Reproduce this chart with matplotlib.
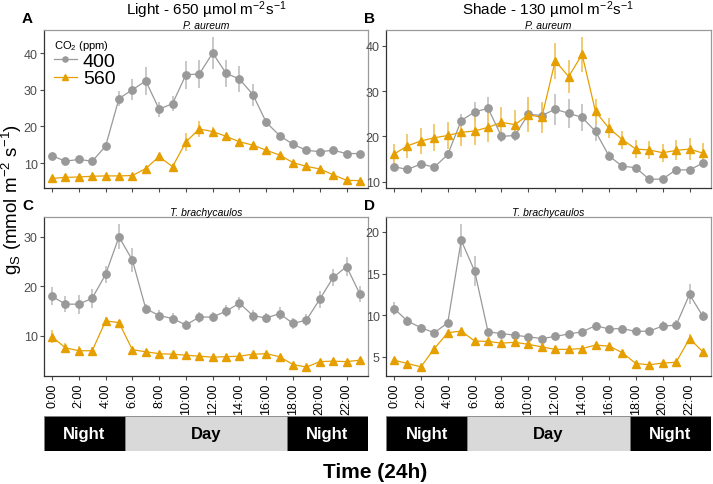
import matplotlib
matplotlib.use("Agg")
import matplotlib.pyplot as plt
import numpy as np

plt.rcParams['font.family'] = ['Liberation Sans', 'DejaVu Sans']
plt.rcParams['mathtext.default'] = 'regular'

hours = list(range(24))
tick_labels = ["%d:00" % h for h in range(0, 24, 2)]

# A - Light, P. aureum
a_400 = [12.0, 10.5, 11.0, 10.5, 14.6, 27.6, 30.0, 32.4, 24.7, 26.2, 34.1, 34.3,
         40.0, 34.5, 32.9, 28.7, 21.1, 17.5, 15.1, 13.5, 13.1, 13.5, 12.6, 12.6]
a_400_se = [0.4, 0.3, 0.3, 0.3, 0.8, 2.0, 2.8, 3.8, 2.0, 2.0, 3.8, 3.8,
            4.3, 3.7, 3.5, 3.0, 1.3, 0.8, 0.4, 0.4, 0.4, 0.4, 0.4, 0.4]
a_560 = [5.8, 6.1, 6.2, 6.4, 6.5, 6.5, 6.6, 8.5, 11.8, 9.0, 15.8, 19.3,
         18.6, 17.3, 15.8, 14.9, 13.5, 12.2, 10.1, 9.1, 8.4, 6.8, 5.3, 5.2]
a_560_se = [0.4, 0.4, 0.4, 0.4, 0.4, 0.4, 0.4, 0.6, 0.8, 0.7, 2.5, 2.2,
            1.2, 1.0, 0.8, 0.6, 0.5, 0.5, 0.5, 0.4, 0.4, 0.4, 0.3, 0.3]

# B - Shade, P. aureum
b_400 = [13.3, 12.7, 13.9, 13.2, 16.0, 23.5, 25.4, 26.2, 20.0, 20.2, 24.9, 24.6,
         26.0, 25.1, 24.2, 21.1, 15.7, 13.4, 13.1, 10.5, 10.6, 12.6, 12.6, 14.1]
b_400_se = [0.3, 0.3, 0.3, 0.3, 1.0, 1.5, 2.2, 2.5, 1.2, 1.2, 2.6, 2.6,
            3.4, 3.2, 3.0, 2.2, 1.0, 0.5, 0.4, 0.3, 0.3, 0.4, 0.4, 0.6]
b_560 = [16.1, 17.9, 19.0, 19.7, 20.2, 20.9, 21.2, 22.0, 23.1, 22.6, 24.8, 24.2,
         36.7, 33.2, 38.1, 25.5, 21.8, 19.3, 17.2, 17.0, 16.4, 16.9, 17.2, 16.3]
b_560_se = [2.3, 2.6, 2.9, 3.0, 3.0, 3.0, 3.0, 3.2, 3.3, 3.3, 3.8, 3.4,
            4.0, 3.6, 3.8, 2.7, 2.2, 2.0, 2.0, 2.0, 2.0, 2.2, 2.4, 2.2]

# C - Light, T. brachycaulos
c_400 = [18.0, 16.4, 16.4, 17.6, 22.4, 30.0, 25.3, 15.5, 14.1, 13.5, 12.2, 13.8,
         13.8, 15.0, 16.6, 14.1, 13.6, 14.5, 12.5, 13.2, 17.4, 21.8, 24.0, 18.4]
c_400_se = [1.8, 1.6, 1.9, 1.9, 1.8, 2.5, 2.4, 1.0, 1.1, 1.1, 1.0, 1.1,
            1.0, 1.2, 1.3, 1.2, 1.1, 1.3, 1.2, 1.3, 1.7, 1.8, 2.0, 1.6]
c_560 = [9.8, 7.6, 7.0, 7.0, 13.0, 12.7, 7.2, 6.8, 6.4, 6.3, 6.1, 5.9,
         5.7, 5.8, 5.9, 6.3, 6.4, 5.8, 4.2, 3.7, 4.8, 4.9, 4.8, 5.1]
c_560_se = [1.3, 1.0, 0.9, 0.7, 0.9, 0.5, 0.3, 0.3, 0.3, 0.3, 0.3, 0.3,
            0.3, 0.3, 0.3, 0.3, 0.3, 0.3, 0.3, 0.3, 0.3, 0.3, 0.3, 0.3]

# D - Shade, T. brachycaulos
d_400 = [10.8, 9.3, 8.5, 7.9, 9.1, 19.0, 15.3, 8.0, 7.8, 7.6, 7.4, 7.2,
         7.45, 7.75, 8.0, 8.75, 8.35, 8.4, 8.05, 8.1, 8.7, 8.8, 12.5, 9.85]
d_400_se = [0.8, 0.6, 0.5, 0.4, 0.5, 2.0, 1.8, 0.3, 0.3, 0.3, 0.3, 0.3,
            0.3, 0.3, 0.3, 0.4, 0.4, 0.4, 0.4, 0.4, 0.6, 0.6, 1.2, 0.6]
d_560 = [4.6, 4.2, 3.8, 6.0, 7.9, 8.1, 6.9, 6.85, 6.65, 6.75, 6.5, 6.2,
         5.9, 5.9, 6.0, 6.4, 6.3, 5.5, 4.2, 4.05, 4.25, 4.35, 7.2, 5.6]
d_560_se = [0.3, 0.3, 0.3, 0.3, 0.3, 0.3, 0.3, 0.3, 0.3, 0.3, 0.3, 0.3,
            0.3, 0.3, 0.3, 0.3, 0.3, 0.3, 0.3, 0.3, 0.3, 0.3, 0.5, 0.3]

# light/dark periods
periods = ["Night", "Day", "Night"]
period_start = [0, 6, 18]
period_len = [6, 12, 6]

grey = '#999999'
orange = '#E69F00'

fig = plt.figure(figsize=(7.13, 4.85), dpi=100)

W, H = 713.0, 485.0
def box(x0, y0, x1, y1):
    return [x0 / W, 1 - y1 / H, (x1 - x0) / W, (y1 - y0) / H]

axA = fig.add_axes(box(44, 31, 368, 189))
axB = fig.add_axes(box(386, 31, 711, 189))
axC = fig.add_axes(box(44, 218, 368, 377))
axD = fig.add_axes(box(386, 218, 711, 377))

panels = [
    (axA, a_400, a_400_se, a_560, a_560_se, (3.2, 46.3), [10, 20, 30, 40], 'P. aureum', 'A'),
    (axB, b_400, b_400_se, b_560, b_560_se, (8.6, 43.5), [10, 20, 30, 40], 'P. aureum', 'B'),
    (axC, c_400, c_400_se, c_560, c_560_se, (1.9, 34.0), [10, 20, 30], 'T. brachycaulos', 'C'),
    (axD, d_400, d_400_se, d_560, d_560_se, (2.7, 21.8), [5, 10, 15, 20], 'T. brachycaulos', 'D'),
]

for ax, g, gse, o, ose, ylim, yt, sp, letter in panels:
    ax.errorbar(hours, g, yerr=gse, fmt='none', ecolor='#c4c4c4', elinewidth=1.3, zorder=2)
    ax.errorbar(hours, o, yerr=ose, fmt='none', ecolor='#f0c766', elinewidth=1.3, zorder=2)
    ax.plot(hours, g, '-o', color=grey, lw=0.9, ms=5.3, zorder=3, label='400')
    ax.plot(hours, o, '-^', color=orange, lw=0.9, ms=6.3, zorder=4, label='560')
    ax.set_xlim(-0.6, 23.6)
    ax.set_ylim(*ylim)
    ax.set_yticks(yt)
    ax.set_xticks(range(0, 24, 2))
    ax.tick_params(axis='y', labelsize=9, labelcolor='#4d4d4d', color='#4d4d4d',
                   length=3, pad=1.5)
    ax.tick_params(axis='x', labelsize=9, color='#4d4d4d', length=3, pad=2)
    for side in ['left', 'bottom']:
        ax.spines[side].set_color('#333333')
        ax.spines[side].set_linewidth(0.9)
    for side in ['top', 'right']:
        ax.spines[side].set_color('#9a9a9a')
        ax.spines[side].set_linewidth(0.9)
    ax.set_title(sp, fontsize=7.5, style='italic', pad=1.5)
    x0 = ax.get_position().x0
    y1 = ax.get_position().y1
    fig.text(x0 - 22 / W, y1 + 12 / H, letter, fontsize=11, fontweight='bold',
             ha='left', va='center')

for ax in [axA, axB]:
    ax.set_xticklabels([])
for ax in [axC, axD]:
    ax.set_xticklabels(tick_labels, rotation=90)

fig.text(206 / W, 1 - 10.5 / H, 'Light - 650 µmol m$^{-2}$s$^{-1}$', fontsize=11,
         ha='center', va='center')
fig.text(548 / W, 1 - 10.5 / H, 'Shade - 130 µmol m$^{-2}$s$^{-1}$', fontsize=11,
         ha='center', va='center')

fig.text(12 / W, 1 - 200 / H, 'g$_S$ (mmol m$^{-2}$ s$^{-1}$)', fontsize=13.5,
         rotation=90, ha='center', va='center')

leg = axA.legend(loc='upper left', bbox_to_anchor=(0.0, 1.01), fontsize=14,
                 title='CO$_2$ (ppm)', title_fontsize=8, frameon=False,
                 handlelength=1.2, handletextpad=0.3, labelspacing=0.0,
                 borderaxespad=0.3, borderpad=0.2, markerscale=0.7)
leg._legend_box.align = 'left'

# day/night strips
for ax in [axC, axD]:
    pos = ax.get_position()
    bx = fig.add_axes([pos.x0, 1 - 452 / H, pos.width, 35 / H])
    for name, s, l in zip(periods, period_start, period_len):
        fc = 'black' if name == 'Night' else '#d9d9d9'
        tc = 'white' if name == 'Night' else 'black'
        bx.barh(0, l, left=s, height=1, color=fc, edgecolor='#7f7f7f', lw=0.6)
        bx.text(s + l / 2, 0, name, color=tc, fontsize=12, fontweight='bold',
                ha='center', va='center')
    bx.set_xlim(0, 24)
    bx.set_ylim(-0.5, 0.5)
    bx.axis('off')

fig.text(375 / W, 1 - 473 / H, 'Time (24h)', fontsize=15, fontweight='bold',
         ha='center', va='center')

fig.savefig('out.png', dpi=100)
